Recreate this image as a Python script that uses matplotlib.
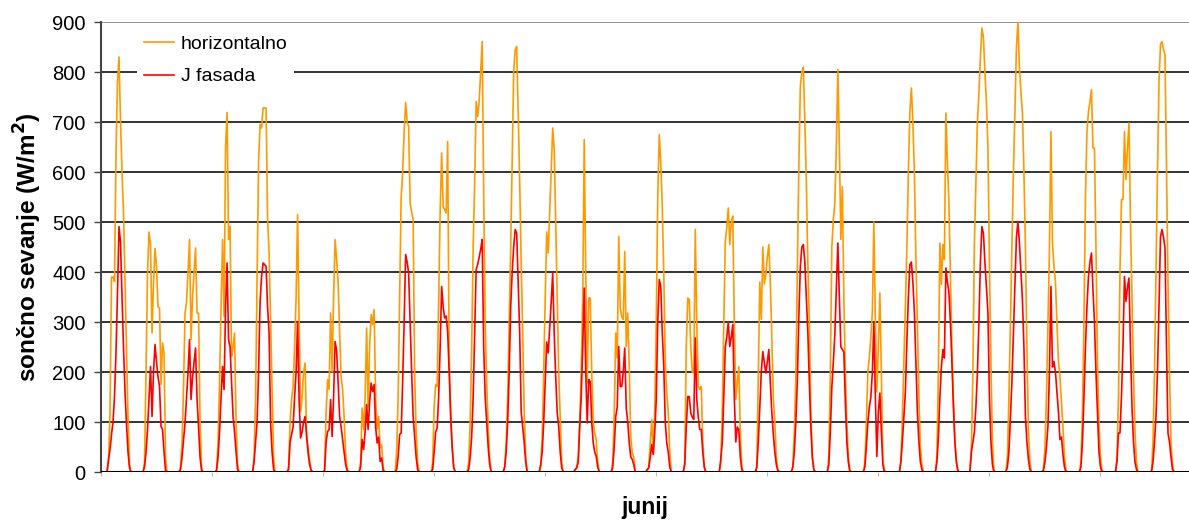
import matplotlib
matplotlib.use("Agg")
import matplotlib.pyplot as plt
import numpy as np

# hourly values for hours 04..20 of each day in June (night hours are 0)
first_hour = 4
horizontalno = [
    [0, 20, 120, 390, 390, 381, 640, 780, 830, 700, 600, 520, 380, 250, 110, 15, 0],
    [0, 20, 200, 400, 480, 455, 278, 380, 447, 411, 330, 328, 175, 258, 238, 30, 0],
    [0, 10, 60, 170, 318, 340, 400, 465, 265, 350, 400, 448, 318, 318, 100, 10, 0],
    [0, 5, 60, 180, 330, 465, 311, 650, 719, 465, 491, 231, 250, 278, 100, 15, 0],
    [0, 0, 30, 150, 380, 620, 695, 688, 728, 728, 728, 505, 440, 300, 150, 30, 0],
    [0, 10, 100, 145, 171, 250, 350, 515, 298, 121, 150, 200, 218, 65, 50, 25, 5],
    [0, 5, 120, 185, 165, 318, 200, 350, 465, 425, 380, 280, 190, 165, 110, 40, 5],
    [0, 20, 128, 85, 150, 288, 130, 250, 315, 295, 325, 150, 86, 111, 48, 55, 10],
    [0, 40, 150, 350, 548, 600, 680, 739, 700, 691, 538, 520, 505, 200, 80, 20, 0],
    [0, 20, 130, 175, 171, 350, 520, 638, 530, 525, 518, 661, 230, 125, 50, 10, 0],
    [0, 20, 100, 250, 450, 580, 741, 711, 741, 800, 861, 560, 300, 180, 91, 30, 0],
    [0, 10, 60, 150, 300, 450, 620, 800, 845, 851, 720, 578, 420, 278, 120, 31, 0],
    [0, 10, 70, 200, 350, 480, 438, 520, 600, 688, 645, 500, 345, 200, 111, 20, 0],
    [5, 10, 30, 100, 200, 350, 665, 400, 178, 348, 348, 200, 100, 78, 65, 20, 0],
    [0, 20, 120, 278, 228, 471, 328, 310, 305, 441, 251, 318, 211, 70, 38, 31, 0],
    [5, 10, 60, 105, 38, 120, 300, 550, 675, 620, 531, 400, 220, 158, 120, 40, 0],
    [0, 20, 250, 348, 345, 250, 200, 198, 485, 300, 171, 165, 171, 60, 10, 0, 0],
    [0, 20, 120, 300, 460, 490, 528, 455, 500, 512, 300, 145, 180, 211, 80, 10, 0],
    [0, 10, 200, 380, 305, 450, 376, 395, 430, 455, 380, 270, 150, 100, 30, 5, 0],
    [0, 10, 80, 190, 400, 610, 770, 800, 810, 700, 580, 420, 300, 120, 30, 5, 0],
    [0, 30, 200, 450, 505, 538, 650, 805, 658, 465, 571, 350, 200, 100, 30, 5, 0],
    [0, 20, 100, 200, 230, 270, 320, 500, 300, 160, 250, 358, 200, 20, 5, 0, 0],
    [0, 20, 110, 220, 330, 450, 600, 720, 768, 700, 600, 430, 300, 150, 50, 15, 0],
    [0, 30, 200, 458, 375, 455, 425, 718, 620, 540, 400, 250, 150, 60, 20, 0, 0],
    [50, 200, 458, 580, 700, 758, 830, 888, 870, 800, 740, 650, 420, 220, 60, 5, 0],
    [30, 150, 300, 450, 600, 720, 850, 901, 811, 760, 718, 600, 450, 250, 80, 20, 0],
    [5, 50, 150, 300, 445, 681, 460, 411, 380, 300, 220, 191, 140, 90, 30, 5, 0],
    [0, 20, 120, 300, 550, 680, 721, 740, 765, 648, 648, 450, 220, 100, 30, 5, 0],
    [0, 30, 150, 400, 545, 545, 681, 585, 650, 698, 500, 350, 200, 80, 20, 0, 0],
    [0, 60, 200, 400, 600, 780, 855, 861, 845, 835, 600, 380, 200, 60, 15, 0, 0],
]
j_fasada = [
    [0, 25, 45, 75, 100, 150, 240, 360, 491, 460, 350, 250, 160, 95, 40, 8, 0],
    [0, 10, 40, 85, 150, 211, 111, 200, 255, 220, 190, 171, 91, 85, 40, 3, 0],
    [0, 5, 30, 65, 98, 150, 200, 265, 145, 190, 220, 248, 145, 90, 30, 3, 0],
    [0, 3, 30, 80, 150, 211, 165, 330, 418, 265, 250, 180, 111, 80, 40, 5, 0],
    [0, 0, 20, 60, 100, 200, 340, 391, 418, 415, 411, 330, 278, 100, 40, 5, 0],
    [0, 5, 60, 75, 90, 150, 200, 301, 145, 68, 80, 100, 111, 75, 38, 15, 3],
    [0, 3, 60, 81, 85, 145, 71, 150, 261, 243, 180, 111, 90, 65, 40, 15, 3],
    [0, 10, 65, 45, 80, 135, 85, 140, 178, 161, 175, 90, 58, 70, 21, 28, 3],
    [0, 5, 30, 75, 78, 180, 300, 435, 420, 398, 298, 200, 111, 70, 30, 5, 0],
    [0, 5, 40, 80, 88, 150, 250, 371, 330, 308, 312, 280, 200, 110, 50, 10, 0],
    [0, 5, 30, 70, 150, 280, 405, 415, 430, 445, 465, 250, 150, 100, 50, 15, 0],
    [0, 10, 40, 100, 200, 330, 400, 450, 485, 478, 380, 278, 120, 90, 60, 20, 0],
    [0, 15, 40, 100, 180, 260, 238, 290, 340, 398, 278, 190, 118, 91, 40, 8, 0],
    [5, 8, 20, 90, 150, 250, 368, 200, 98, 185, 181, 100, 58, 40, 31, 10, 0],
    [0, 10, 50, 111, 130, 251, 171, 171, 200, 248, 128, 100, 58, 30, 25, 15, 0],
    [5, 8, 30, 55, 35, 80, 145, 300, 385, 371, 280, 211, 100, 58, 40, 10, 0],
    [0, 15, 90, 151, 151, 118, 110, 105, 268, 145, 110, 85, 85, 40, 10, 0, 0],
    [0, 25, 60, 150, 250, 270, 300, 251, 270, 295, 150, 60, 90, 85, 30, 5, 0],
    [0, 10, 60, 130, 200, 241, 220, 198, 220, 245, 180, 120, 75, 40, 15, 3, 0],
    [0, 10, 40, 100, 180, 310, 410, 450, 455, 420, 350, 280, 180, 90, 30, 5, 0],
    [0, 15, 80, 170, 220, 275, 370, 458, 350, 250, 245, 240, 140, 60, 20, 0, 0],
    [0, 10, 50, 100, 130, 150, 200, 298, 150, 31, 120, 158, 80, 15, 0, 0, 0],
    [0, 20, 60, 110, 160, 260, 350, 415, 420, 380, 320, 220, 120, 60, 20, 5, 0],
    [0, 20, 70, 150, 210, 245, 228, 408, 380, 360, 300, 220, 130, 60, 20, 3, 0],
    [40, 60, 80, 130, 198, 300, 420, 491, 478, 420, 370, 320, 150, 60, 15, 0, 0],
    [10, 40, 111, 180, 278, 380, 470, 501, 458, 400, 345, 250, 111, 60, 25, 5, 0],
    [3, 20, 50, 91, 200, 371, 210, 221, 200, 160, 120, 65, 70, 35, 10, 0, 0],
    [0, 10, 60, 150, 250, 330, 391, 420, 438, 365, 300, 200, 120, 40, 10, 0, 0],
    [0, 20, 78, 78, 150, 250, 391, 341, 370, 388, 250, 130, 60, 20, 5, 0, 0],
    [0, 20, 60, 111, 200, 330, 470, 485, 470, 448, 250, 78, 60, 30, 5, 0, 0],
]
n_extra = 6  # first hours of 1 July, all zero
series_names = ["horizontalno", "J fasada"]
series_colors = ["#FF9900", "#FF0000"]


def hourly(days):
    out = []
    for d in days:
        row = [0] * 24
        row[first_hour:first_hour + len(d)] = d
        out += row
    return np.array(out + [0] * n_extra, dtype=float)


hor = hourly(horizontalno)
jf = hourly(j_fasada)
t = np.arange(len(hor))

plt.rcParams['font.family'] = ['Liberation Sans', 'DejaVu Sans']

fig = plt.figure(figsize=(11.89, 5.23), dpi=100)
ax = fig.add_axes([101 / 1189, 51 / 523, 1088 / 1189, 450 / 523])

for yv in range(100, 901, 100):
    ax.axhline(yv, color="#222222" if yv < 900 else "#888888", lw=1.3, zorder=1)

ax.plot(t, hor, color=series_colors[0], lw=1.2, label=series_names[0], zorder=3)
ax.plot(t, jf, color=series_colors[1], lw=1.2, label=series_names[1], zorder=4)
ax.axhline(0, color="black", lw=1.5, zorder=5)

ax.set_xlim(0, len(t) - 1)
ax.set_ylim(0, 900)
ax.set_yticks(range(0, 901, 100))
ax.tick_params(axis="y", labelsize=14.5, length=5, width=1, color="#444444", pad=6)
ax.set_xticks(np.arange(0, len(t), 74))
ax.tick_params(axis="x", length=3, width=0.8, color="#bbbbbb", labelbottom=False)

for s in ["top", "right"]:
    ax.spines[s].set_visible(False)
ax.spines["left"].set_color("#444444")
ax.spines["left"].set_linewidth(1.5)
ax.spines["bottom"].set_visible(False)

ax.set_ylabel("sončno sevanje (W/m$^\\mathbf{2}$)", fontsize=17.5, fontweight="bold", labelpad=6)
ax.set_xlabel("junij", fontsize=16.5, fontweight="bold", labelpad=14)

leg = ax.legend(loc="upper left", bbox_to_anchor=(0.033, 0.985), frameon=True, fontsize=14,
                handlelength=1.55, handletextpad=0.35, labelspacing=0.75, borderpad=0.35,
                borderaxespad=0)
leg.get_frame().set_edgecolor("none")
leg.get_frame().set_facecolor("white")
leg.get_frame().set_alpha(1)
leg.set_zorder(10)

plt.savefig("out.png", dpi=100)
